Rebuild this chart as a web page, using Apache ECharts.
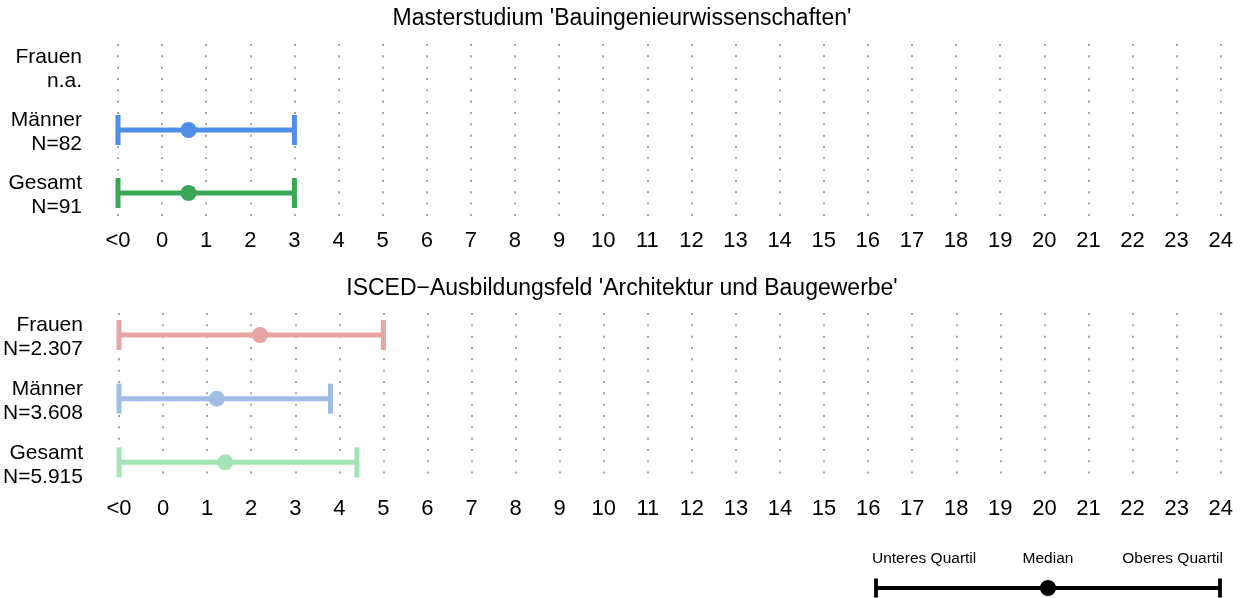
<!DOCTYPE html>
<html>
<head>
<meta charset="utf-8">
<script src="https://cdn.jsdelivr.net/npm/echarts@6/dist/echarts.min.js"></script>
<style>
html,body{margin:0;padding:0;background:#fff;}
#chart{width:1244px;height:598px;}
</style>
</head>
<body>
<div id="chart"></div>
<script>
// ---- data ----
const categories = ['Frauen', 'Männer', 'Gesamt'];
const topTitle = "Masterstudium 'Bauingenieurwissenschaften'";
const bottomTitle = "ISCED\u2212Ausbildungsfeld 'Architektur und Baugewerbe'";
const topN = ['n.a.', 'N=82', 'N=91'];
const bottomN = ['N=2.307', 'N=3.608', 'N=5.915'];
const topLow = [null, -1, -1];
const topMedian = [null, 0.6, 0.6];
const topHigh = [null, 3, 3];
const bottomLow = [-1, -1, -1];
const bottomMedian = [2.2, 1.22, 1.41];
const bottomHigh = [5, 3.8, 4.4];
const tickLabels = ['<0','0','1','2','3','4','5','6','7','8','9','10','11','12','13','14','15','16','17','18','19','20','21','22','23','24'];
const legendLabels = ['Unteres Quartil', 'Median', 'Oberes Quartil'];
const legendValues = [0, 0.5, 1];

// ---- styles ----
const topColors = ['#e8a3a3', '#4f8deb', '#3aa757'];
const bottomColors = ['#e8a3a3', '#9fbde6', '#a3e4b5'];
const FONT = 'Liberation Sans, Arial, Helvetica, sans-serif';

function buildData(low, med, high) {
  const out = [];
  for (let i = 0; i < categories.length; i++) {
    if (low[i] === null) continue;
    out.push([i, low[i], med[i], high[i]]);
  }
  return out;
}

function makeRender(colors) {
  return function (params, api) {
    const row = api.value(0);
    const lo = api.coord([api.value(1), row]);
    const md = api.coord([api.value(2), row]);
    const hi = api.coord([api.value(3), row]);
    const c = colors[row];
    const capH = 15;
    return {
      type: 'group',
      children: [
        { type: 'line', shape: { x1: lo[0], y1: lo[1], x2: hi[0], y2: hi[1] }, style: { stroke: c, lineWidth: 5 } },
        { type: 'line', shape: { x1: lo[0], y1: lo[1] - capH, x2: lo[0], y2: lo[1] + capH }, style: { stroke: c, lineWidth: 5 } },
        { type: 'line', shape: { x1: hi[0], y1: hi[1] - capH, x2: hi[0], y2: hi[1] + capH }, style: { stroke: c, lineWidth: 5 } },
        { type: 'circle', shape: { cx: md[0], cy: md[1], r: 8 }, style: { fill: c } }
      ]
    };
  };
}

function xAxisDef(gridIndex, margin) {
  return {
    gridIndex: gridIndex, type: 'value', min: -1, max: 24, interval: 1,
    axisLine: { show: false }, axisTick: { show: false },
    axisLabel: {
      margin: margin, fontSize: 22, color: '#000', fontFamily: FONT,
      formatter: function (v) { return tickLabels[Math.round(v) + 1]; }
    },
    splitLine: { show: true, lineStyle: { color: '#a3a3a3', width: 2, type: [2, 9.33] } }
  };
}

function yAxisDef(gridIndex, min, max, nLabels) {
  return {
    gridIndex: gridIndex, type: 'value', inverse: true, min: min, max: max,
    axisLine: { show: false }, axisTick: { show: false }, splitLine: { show: false },
    axisLabel: {
      customValues: [0.04, 1.04, 2.04], margin: 36, fontSize: 21, lineHeight: 24, color: '#000', fontFamily: FONT, align: 'right',
      formatter: function (v) { const i = Math.round(v); return categories[i] + '\n' + nLabels[i]; }
    }
  };
}

const chart = echarts.init(document.getElementById('chart'), null, { renderer: 'canvas' });
chart.setOption({
  animation: false,
  backgroundColor: '#fff',
  title: [
    { text: topTitle, left: 'center', top: 7, padding: 0, textStyle: { fontSize: 23, fontWeight: 'normal', color: '#000', fontFamily: FONT } },
    { text: bottomTitle, left: 'center', top: 277, padding: 0, textStyle: { fontSize: 23, fontWeight: 'normal', color: '#000', fontFamily: FONT } }
  ],
  grid: [
    { left: 118, width: 1102.7, top: 44, height: 172 },
    { left: 118, width: 1102.7, top: 313, height: 170 },
    { left: 876, width: 344, top: 578, height: 20 }
  ],
  xAxis: [
    xAxisDef(0, 14),
    xAxisDef(1, 15),
    { gridIndex: 2, type: 'value', min: 0, max: 1, show: false }
  ],
  yAxis: [
    yAxisDef(0, -0.365, 2.365, topN),
    yAxisDef(1, -0.346, 2.325, bottomN),
    { gridIndex: 2, type: 'value', min: -1, max: 1, show: false }
  ],
  series: [
    {
      type: 'custom', xAxisIndex: 0, yAxisIndex: 0,
      encode: { x: [1, 2, 3], y: 0 },
      data: buildData(topLow, topMedian, topHigh),
      renderItem: makeRender(topColors)
    },
    {
      type: 'custom', xAxisIndex: 1, yAxisIndex: 1,
      encode: { x: [1, 2, 3], y: 0 },
      data: buildData(bottomLow, bottomMedian, bottomHigh),
      renderItem: makeRender(bottomColors)
    },
    {
      type: 'custom', xAxisIndex: 2, yAxisIndex: 2,
      encode: { x: [0, 1, 2] },
      data: [[legendValues[0], legendValues[1], legendValues[2]]],
      renderItem: function (params, api) {
        const lo = api.coord([api.value(0), 0]);
        const md = api.coord([api.value(1), 0]);
        const hi = api.coord([api.value(2), 0]);
        const c = '#000';
        const capH = 9.5;
        const ty = lo[1] - 29;
        const ts = { fontSize: 15.5, fill: '#000', fontFamily: FONT, verticalAlign: 'middle' };
        return {
          type: 'group',
          children: [
            { type: 'line', shape: { x1: lo[0], y1: lo[1], x2: hi[0], y2: hi[1] }, style: { stroke: c, lineWidth: 3.8 } },
            { type: 'line', shape: { x1: lo[0], y1: lo[1] - capH, x2: lo[0], y2: lo[1] + capH }, style: { stroke: c, lineWidth: 3.8 } },
            { type: 'line', shape: { x1: hi[0], y1: hi[1] - capH, x2: hi[0], y2: hi[1] + capH }, style: { stroke: c, lineWidth: 3.8 } },
            { type: 'circle', shape: { cx: md[0], cy: md[1], r: 8 }, style: { fill: c } },
            { type: 'text', x: lo[0] - 4, y: ty, style: Object.assign({ text: legendLabels[0], align: 'left' }, ts) },
            { type: 'text', x: md[0], y: ty, style: Object.assign({ text: legendLabels[1], align: 'center' }, ts) },
            { type: 'text', x: hi[0] + 3, y: ty, style: Object.assign({ text: legendLabels[2], align: 'right' }, ts) }
          ]
        };
      }
    }
  ]
});
</script>
</body>
</html>
